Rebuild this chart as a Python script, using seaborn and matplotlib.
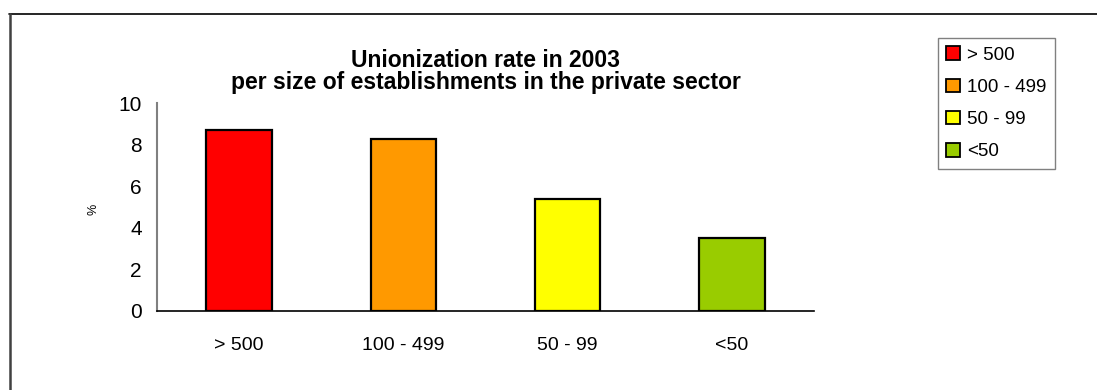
import matplotlib
matplotlib.use("Agg")
import matplotlib.pyplot as plt
from matplotlib.lines import Line2D
import seaborn as sns
import pandas as pd

# Establishment size classes and unionization rate (%)
categories = ["> 500", "100 - 499", "50 - 99", "<50"]
rates = [8.7, 8.3, 5.4, 3.5]
colors = ["#FF0000", "#FF9900", "#FFFF00", "#99CC00"]
y_ticks = [0, 2, 4, 6, 8, 10]

sns.set_style("white")
plt.rcParams["font.family"] = ["Liberation Sans", "DejaVu Sans"]
for key in ("text.color", "axes.labelcolor", "xtick.labelcolor", "ytick.labelcolor"):
    plt.rcParams[key] = "black"

df = pd.DataFrame({"size": categories, "rate": rates})

fig = plt.figure(figsize=(10.97, 3.90), dpi=100)
ax = fig.add_axes([157 / 1097, 79 / 390, 657 / 1097, 207.7 / 390])

sns.barplot(data=df, x="size", y="rate", hue="size", order=categories,
            hue_order=categories, palette=colors, width=0.4,
            edgecolor="black", linewidth=1.6, saturation=1, dodge=False,
            legend=True, ax=ax)

ax.set_xlim(-0.5, 3.5)
ax.set_ylim(0, 10)
ax.set_yticks(y_ticks)
ax.set_xticks(range(len(categories)))
ax.set_xticklabels(categories)
ax.set_xticks([-0.5, 0.5, 1.5, 2.5, 3.5], minor=True)
ax.tick_params(axis="x", which="major", length=0, pad=19, labelsize=14)
ax.tick_params(axis="x", which="minor", direction="in", length=5,
               color="#808080", width=1)
ax.tick_params(axis="y", direction="in", length=6, color="#808080",
               width=1, pad=11, labelsize=15)
ax.set_xlabel("")
ax.set_ylabel("%", fontsize=9)
ax.yaxis.set_label_coords(-0.087, 0.49)

for side in ("top", "right"):
    ax.spines[side].set_visible(False)
ax.spines["left"].set_color("#808080")
ax.spines["left"].set_linewidth(1.5)
ax.spines["bottom"].set_color("black")
ax.spines["bottom"].set_linewidth(1.2)

ax.set_title("Unionization rate in 2003\nper size of establishments in the private sector",
             fontsize=16.5, fontweight="bold", linespacing=0.95, pad=10)

handles, labels = ax.get_legend_handles_labels()
for h in handles:
    h.set_edgecolor("black")
    h.set_linewidth(1.3)
ax.legend(handles, labels, loc="upper left",
          bbox_to_anchor=(938 / 1097, 1 - 38 / 390),
          bbox_transform=fig.transFigure, fontsize=13.5, frameon=True,
          fancybox=False, edgecolor="#808080", framealpha=1,
          handlelength=0.72, handleheight=0.72, handletextpad=0.4,
          labelspacing=0.8, borderpad=0.45, borderaxespad=0)
ax.get_legend().get_frame().set_linewidth(1.0)

# Outer chart frame (top and left edges)
fig.add_artist(Line2D([9 / 1097, 1], [1 - 13.5 / 390, 1 - 13.5 / 390],
                      transform=fig.transFigure, color="black", lw=1.2))
fig.add_artist(Line2D([9.5 / 1097, 9.5 / 1097], [0, 1 - 13.5 / 390],
                      transform=fig.transFigure, color="#404040", lw=1.8))

fig.savefig("out.png", dpi=100)
